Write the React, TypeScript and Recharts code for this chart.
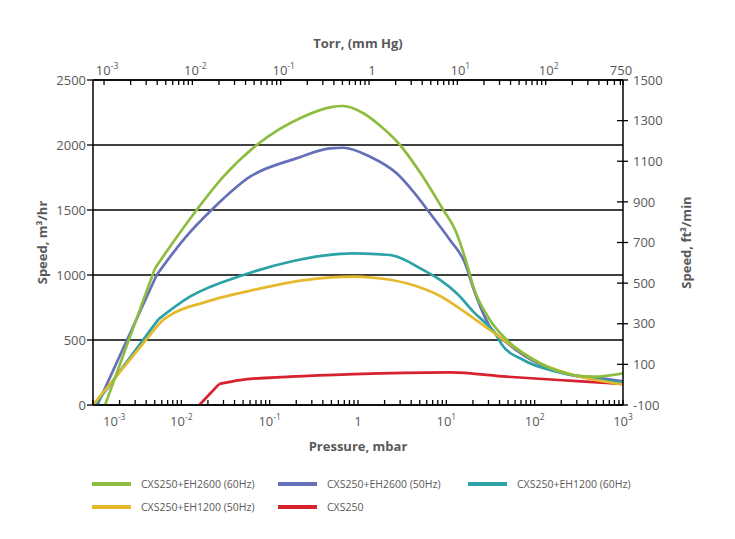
import React from 'react';
import { LineChart, Line, XAxis, YAxis, CartesianGrid, Label } from 'recharts';

const FONT = '"Open Sans", "Noto Sans", sans-serif';
const GRAY = '#595959';

// ---- Series (pressure in mbar, speed in m3/hr) ----
const seriesNames = [
  'CXS250+EH2600 (60Hz)',
  'CXS250+EH2600 (50Hz)',
  'CXS250+EH1200 (60Hz)',
  'CXS250+EH1200 (50Hz)',
  'CXS250',
];
const seriesColors = ['#8dbd3f', '#6670b9', '#2ca2a7', '#e6b82b', '#d7212f'];

const eh2600_60Hz_p = [0.00137, 0.00503, 0.0068, 0.0149, 0.0299, 0.0713, 0.24, 0.48, 0.68, 1.15, 1.77, 2.99, 5.03, 9.25, 12.6, 17.0, 20.2, 31.2, 48.3, 115, 274, 464, 1000];
const eh2600_60Hz_v = [0, 1051, 1180, 1500, 1756, 2000, 2218, 2290, 2300, 2244, 2150, 2000, 1790, 1500, 1346, 1090, 910, 654, 500, 321, 231, 218, 244];

const eh2600_50Hz_p = [0.00112, 0.00526, 0.0105, 0.023, 0.06, 0.2, 0.48, 0.68, 1.37, 2.74, 4.23, 6.53, 11.0, 16.3, 20.2, 31.2, 48.3, 115, 274, 500, 1000];
const eh2600_50Hz_v = [0, 1000, 1269, 1513, 1756, 1897, 1974, 1979, 1910, 1782, 1641, 1475, 1269, 1090, 898, 602, 480, 312, 228, 210, 182];

const eh1200_60Hz_p = [0.00105, 0.00549, 0.0125, 0.0503, 0.17, 0.405, 0.9, 2.3, 5.48, 8.49, 13.1, 20.2, 36.9, 42.3, 74.3, 178, 424, 1000];
const eh1200_60Hz_v = [0, 659, 833, 1000, 1102, 1149, 1167, 1154, 1038, 962, 859, 718, 535, 468, 346, 256, 205, 172];

const eh1200_50Hz_p = [0.001, 0.0047, 0.006, 0.0075, 0.0194, 0.0713, 0.262, 0.9, 1.49, 3.56, 8.49, 17.0, 31.2, 57.3, 115, 274, 1000];
const eh1200_50Hz_v = [0, 561, 645, 692, 795, 890, 962, 987, 979, 936, 838, 705, 577, 448, 321, 231, 159];

const cxs250_p = [0.016, 0.0269, 0.0462, 0.17, 0.9, 11.0, 48.3, 274, 1000];
const cxs250_v = [0, 162, 192, 218, 238, 251, 218, 185, 162];

// index where the straight (linear) rising part ends
const kinkIndex = [1, 1, 1, 1, 1];
const drawOrder = [4, 1, 2, 3, 0];

// ---- Axes ----
const mbarDomain = [0.001, 1000];
const mbarToTorr = 0.750062;
const torrDomain = [mbarDomain[0] * mbarToTorr, mbarDomain[1] * mbarToTorr];
const mbarDecades = [0.001, 0.01, 0.1, 1, 10, 100, 1000];
const torrDecades = [0.001, 0.01, 0.1, 1, 10, 100];
const torrEndTick = 750;
const minorMultipliers = [2, 3, 4, 5, 6, 7, 8, 9];
const leftTicks = [0, 500, 1000, 1500, 2000, 2500];
const rightTicks = [-100, 100, 300, 500, 700, 900, 1100, 1300, 1500];

const build = (p: number[], v: number[]) => p.map((x, i) => ({ p: x, v: v[i] }));
const seriesData = [
  build(eh2600_60Hz_p, eh2600_60Hz_v),
  build(eh2600_50Hz_p, eh2600_50Hz_v),
  build(eh1200_60Hz_p, eh1200_60Hz_v),
  build(eh1200_50Hz_p, eh1200_50Hz_v),
  build(cxs250_p, cxs250_v),
];

const bottomTicks: number[] = [];
mbarDecades.forEach((d, i) => {
  bottomTicks.push(d);
  if (i < mbarDecades.length - 1) minorMultipliers.forEach((m) => bottomTicks.push(d * m));
});
const topTicks: number[] = [];
torrDecades.forEach((d) => {
  topTicks.push(d);
  minorMultipliers.forEach((m) => {
    if (d * m < torrEndTick) topTicks.push(d * m);
  });
});
topTicks.push(torrEndTick);

const isDecade = (v: number) => Math.abs(Math.log10(v) - Math.round(Math.log10(v))) < 1e-6;

const DecadeLabel = ({ x, y, value, anchor }: any) => {
  const e = Math.round(Math.log10(value));
  return (
    <text x={x} y={y} textAnchor={anchor} fill={GRAY} fontSize={13} fontFamily={FONT}>
      {e === 0 ? (
        '1'
      ) : (
        <>
          <tspan>10</tspan>
          <tspan dy={-6} fontSize={8.5}>{String(e)}</tspan>
        </>
      )}
    </text>
  );
};

const BottomTick = (props: any) => {
  const { x, y, payload } = props;
  const v = payload.value;
  const first = Math.abs(v - mbarDomain[0]) < 1e-9;
  return (
    <g>
      <line x1={x} x2={x} y1={y} y2={y - 5} stroke="#000" strokeWidth={1.3} />
      {isDecade(v) && (
        <DecadeLabel x={first ? x + 10 : x} y={y + 21} value={v} anchor={first ? 'start' : 'middle'} />
      )}
    </g>
  );
};

const TopTick = (props: any) => {
  const { x, y, payload } = props;
  const v = payload.value;
  return (
    <g>
      <line x1={x} x2={x} y1={y} y2={y + 5} stroke="#000" strokeWidth={1.3} />
      {v === torrEndTick ? (
        <text x={x - 2} y={y - 5} textAnchor="middle" fill={GRAY} fontSize={13} fontFamily={FONT}>
          {String(v)}
        </text>
      ) : isDecade(v) ? (
        <DecadeLabel x={x + 3} y={y - 5} value={v} anchor="middle" />
      ) : null}
    </g>
  );
};

const LeftTick = (props: any) => {
  const { x, y, payload } = props;
  return (
    <g>
      <line x1={x - 6} x2={x} y1={y} y2={y} stroke="#000" strokeWidth={1.3} />
      <text x={x - 7} y={y} dy="0.36em" textAnchor="end" fill={GRAY} fontSize={13} fontFamily={FONT}>
        {payload.value}
      </text>
    </g>
  );
};

const RightTick = (props: any) => {
  const { x, y, payload } = props;
  return (
    <g>
      <line x1={x - 6} x2={x + 5} y1={y} y2={y} stroke="#000" strokeWidth={1.3} />
      <text x={x + 10} y={y} dy="0.36em" textAnchor="start" fill={GRAY} fontSize={13} fontFamily={FONT}>
        {payload.value}
      </text>
    </g>
  );
};

const titleStyle = { fill: GRAY, fontSize: 13, fontWeight: 700, fontFamily: FONT } as any;

const BottomTitle = ({ viewBox }: any) => (
  <text x={viewBox.x + viewBox.width / 2} y={viewBox.y + viewBox.height + 16} textAnchor="middle" {...titleStyle}>
    Pressure, mbar
  </text>
);
const TopTitle = ({ viewBox }: any) => (
  <text x={viewBox.x + viewBox.width / 2} y={viewBox.y - 2} textAnchor="middle" {...titleStyle}>
    Torr, (mm Hg)
  </text>
);
const LeftTitle = ({ viewBox }: any) => {
  const cx = viewBox.x + 9;
  const cy = viewBox.y + viewBox.height / 2;
  return (
    <text x={cx} y={cy} dy="0.36em" textAnchor="middle" transform={`rotate(-90, ${cx}, ${cy})`} {...titleStyle}>
      Speed, m³/hr
    </text>
  );
};
const RightTitle = ({ viewBox }: any) => {
  const cx = viewBox.x + 63;
  const cy = viewBox.y + viewBox.height / 2;
  return (
    <text x={cx} y={cy} dy="0.36em" textAnchor="middle" transform={`rotate(-90, ${cx}, ${cy})`} {...titleStyle}>
      Speed, ft³/min
    </text>
  );
};

const legendRows = [[0, 1, 2], [3, 4]];
const legendCols = [84, 270, 460];

export default function App() {
  return (
    <div style={{ position: 'relative', width: 719, height: 523 }}>
      <LineChart width={719} height={523} margin={{ top: 42, right: 44, bottom: 96, left: 25 }}>
        <CartesianGrid vertical={false} stroke="#000" strokeWidth={1.3} xAxisId="bottom" yAxisId="left" />
        <XAxis
          xAxisId="bottom"
          orientation="bottom"
          type="number"
          dataKey="p"
          scale="log"
          domain={mbarDomain}
          allowDataOverflow
          ticks={bottomTicks}
          interval={0}
          tick={<BottomTick />}
          tickLine={false}
          tickSize={0}
          tickMargin={0}
          height={30}
          axisLine={{ stroke: '#000', strokeWidth: 1.5 }}
        >
          <Label content={<BottomTitle />} />
        </XAxis>
        <XAxis
          xAxisId="top"
          orientation="top"
          type="number"
          dataKey="t"
          scale="log"
          domain={torrDomain}
          allowDataOverflow
          ticks={topTicks}
          interval={0}
          tick={<TopTick />}
          tickLine={false}
          tickSize={0}
          tickMargin={0}
          height={30}
          axisLine={{ stroke: '#000', strokeWidth: 1.5 }}
        >
          <Label content={<TopTitle />} />
        </XAxis>
        <YAxis
          yAxisId="left"
          type="number"
          domain={[0, 2500]}
          allowDataOverflow
          ticks={leftTicks}
          interval={0}
          tick={<LeftTick />}
          tickLine={false}
          tickSize={0}
          tickMargin={0}
          width={60}
          axisLine={{ stroke: '#000', strokeWidth: 1.5 }}
        >
          <Label content={<LeftTitle />} />
        </YAxis>
        <YAxis
          yAxisId="right"
          orientation="right"
          type="number"
          domain={[-100, 1500]}
          allowDataOverflow
          ticks={rightTicks}
          interval={0}
          tick={<RightTick />}
          tickLine={false}
          tickSize={0}
          tickMargin={0}
          width={60}
          axisLine={{ stroke: '#000', strokeWidth: 1.5 }}
        >
          <Label content={<RightTitle />} />
        </YAxis>
        {drawOrder.map((si) => {
          const d = seriesData[si];
          const k = kinkIndex[si];
          return [
            <Line
              key={`a${si}`}
              xAxisId="bottom"
              yAxisId="left"
              data={d.slice(0, k + 1)}
              dataKey="v"
              type="linear"
              stroke={seriesColors[si]}
              strokeWidth={2.7}
              dot={false}
              activeDot={false}
              isAnimationActive={false}
            />,
            <Line
              key={`b${si}`}
              xAxisId="bottom"
              yAxisId="left"
              data={d.slice(k)}
              dataKey="v"
              type="monotone"
              stroke={seriesColors[si]}
              strokeWidth={2.7}
              dot={false}
              activeDot={false}
              isAnimationActive={false}
            />,
          ];
        })}
      </LineChart>
      {legendRows.map((row, r) =>
        row.map((si, c) => (
          <div
            key={`lg${si}`}
            style={{
              position: 'absolute',
              left: legendCols[c],
              top: 476 + r * 23 - 8,
              height: 16,
              display: 'flex',
              alignItems: 'center',
              fontFamily: FONT,
              fontSize: 10.5,
              color: GRAY,
              whiteSpace: 'nowrap',
            }}
          >
            <span style={{ display: 'inline-block', width: 39, height: 4, background: seriesColors[si], marginRight: 10 }} />
            <span>{seriesNames[si]}</span>
          </div>
        ))
      )}
    </div>
  );
}
